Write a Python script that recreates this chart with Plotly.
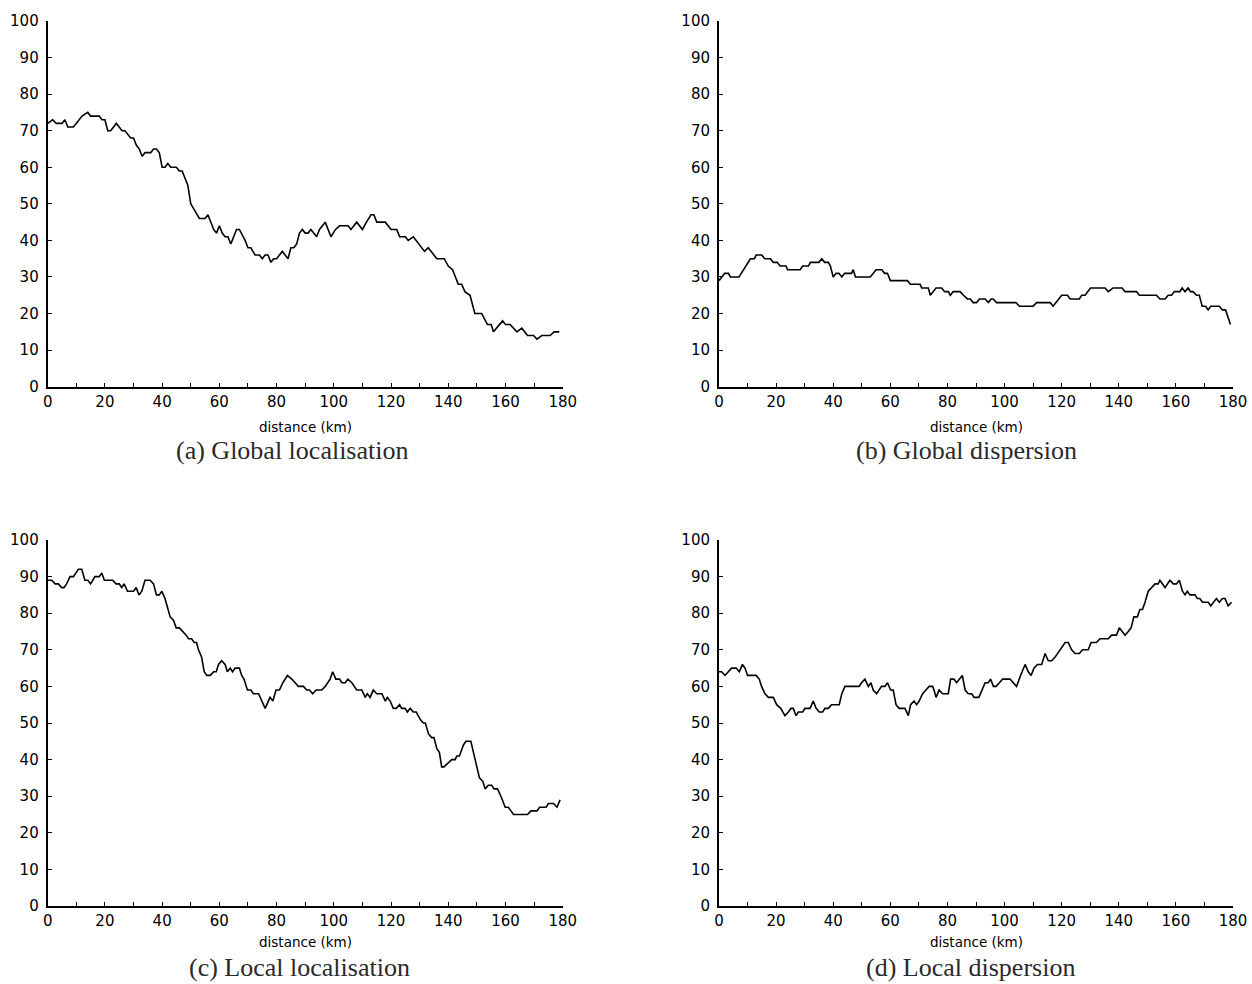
import plotly.graph_objects as go

# ---------------- data ----------------
a_km = [0, 1.7, 3, 5, 6, 7, 9, 12, 14, 15, 18, 19, 20, 21, 22, 24, 26, 27, 29, 30, 31, 32, 33, 34, 36, 37, 38, 39,
        40, 41, 42, 43, 45, 46, 47, 49, 50, 51.5, 53, 55, 56, 58, 59, 60, 61, 62, 63, 64, 66, 67, 69, 70, 71, 72.5,
        74, 75, 76, 77, 78, 79, 80, 82, 84, 85, 86, 87, 88, 89, 90, 91, 92, 94, 95, 97, 99, 100.6, 102, 105, 106,
        108, 110, 111.4, 113, 114, 115, 118, 120, 122, 123, 125, 126, 127.8, 129.7, 131.7, 133, 134, 136, 138.6,
        140, 141.5, 143.5, 144.7, 145.8, 147.6, 149.3, 151.7, 153.7, 155, 155.8, 159, 160, 161.6, 164, 165.7,
        167.7, 169.8, 171, 172.7, 175.6, 177, 178.8]
a_val = [72, 73, 72, 72, 73, 71, 71, 74, 75, 74, 74, 73, 73, 70, 70, 72, 70, 70, 68, 68, 66, 65, 63, 64, 64, 65, 65, 64,
         60, 60, 61, 60, 60, 59, 59, 55, 50, 48, 46, 46, 47, 43, 42, 44, 42, 41, 41, 39, 43, 43, 40, 38, 38, 36,
         36, 35, 36, 36, 34, 35, 35, 37, 35, 38, 38, 39, 42, 43, 42, 42, 43, 41, 43, 45, 41, 43, 44, 44, 43,
         45, 43, 45, 47, 47, 45, 45, 43, 43, 41, 41, 40, 41, 39, 37, 38, 37, 35, 35,
         33, 32, 28, 28, 26, 25, 20, 20, 17, 17, 15, 18, 17, 17, 15, 16,
         14, 14, 13, 14, 14, 15, 15]

b_km = [0, 1, 2, 3.3, 4, 7, 8.5, 10, 11, 12.4, 13, 15, 16, 18, 19, 20.4, 21.4, 23.5, 24, 28.4, 29.3, 31.3, 32, 35,
        36, 37, 38.3, 39, 40, 41, 42, 43, 44, 46.4, 47, 47.8, 53, 55, 57, 58, 59, 60, 66, 67, 70.4, 71, 73.3, 74,
        76, 78, 79, 80.3, 81, 82, 84.4, 85.6, 87, 88, 89, 90.2, 91.2, 93.2, 94.3, 95.3, 96, 97.2, 104, 105.2, 110,
        111.2, 116, 117, 120, 122, 123, 126.2, 127, 128.2, 130.1, 135.2, 136.3, 138, 141.2, 142.2, 146.2, 147.2,
        153.2, 154.4, 156.2, 157.3, 158.5, 159.4, 161.4, 162.2, 163.2, 164.3, 165.1, 166, 167.2, 168.2, 169.2,
        170.4, 171.3, 172.2, 175.2, 176.3, 177.4, 179.1]
b_val = [29, 30, 31, 31, 30, 30, 32, 34, 35, 35, 36, 36, 35, 35, 34, 34, 33, 33, 32, 32, 33, 33, 34, 34,
         35, 34, 34, 33, 30, 31, 31, 30, 31, 31, 32, 30, 30, 32, 32, 31, 31, 29, 29, 28, 28, 27, 27, 25,
         27, 27, 26, 26, 25, 26, 26, 25, 24, 24, 23, 23, 24, 24, 23, 24, 24, 23, 23, 22, 22,
         23, 23, 22, 25, 25, 24, 24, 25, 25, 27, 27, 26, 27, 27, 26, 26, 25,
         25, 24, 24, 25, 25, 26, 26, 27, 26, 27, 26, 26, 25, 25, 22,
         22, 21, 22, 22, 21, 21, 17]

c_km = [0, 1.4, 2.6, 3.7, 4.9, 5.7, 6.6, 7.8, 9, 10.7, 11.9, 13, 14, 15, 16.5, 18, 18.9, 19.8, 22.7, 23.9, 25, 25.9,
        26.7, 27.9, 30, 30.9, 31.9, 32.9, 34, 35.8, 37, 38, 39, 39.9, 41, 41.8, 42.8, 44, 44.9, 46, 47.2, 48.4,
        49.2, 50.3, 51.2, 52, 52.7, 53.8, 54.7, 55.6, 56.8, 58, 58.9, 59.7, 60.8, 62, 62.8, 63.8, 64.6, 65.5, 67,
        67.8, 68.6, 69.8, 71, 71.9, 73.7, 74.8, 76, 77.7, 78.7, 79.8, 81, 82.2, 83.8, 85.3, 87.6, 89.4, 90.5,
        91.5, 92.6, 93.8, 95.8, 97, 98.7, 99.6, 100.7, 102, 102.8, 104, 104.9, 106.3, 108, 109.8, 111, 111.7,
        112.7, 113.8, 115, 116.8, 118, 118.7, 119.7, 120.8, 121.8, 123, 123.7, 124.9, 125.7, 126.7, 127.8, 128.8,
        130.2, 131.3, 132, 133.1, 134.2, 135, 136, 136.9, 137.7, 138.5, 140, 141.2, 142.4, 143, 143.9, 145.3,
        146.2, 147.9, 149.4, 150.9, 152.1, 152.9, 154, 155.2, 156, 157.2, 158.4, 159.9, 161, 162.8, 167.7, 168.9,
        171, 171.9, 174.2, 175, 176.8, 178, 179.1]
c_val = [89, 89, 88, 88, 87, 87, 88, 90, 90, 92, 92, 89, 89, 88, 90, 90, 91, 89, 89, 88, 88, 87,
         88, 86, 86, 87, 85, 86, 89, 89, 88, 85, 85, 86, 84, 82, 79, 78, 76, 76, 75, 74,
         73, 73, 72, 72, 70, 68, 64, 63, 63, 64, 64, 66, 67, 66, 64, 65, 64, 65, 65,
         63, 62, 59, 59, 58, 58, 56, 54, 57, 56, 59, 59, 61, 63, 62, 60, 60, 59,
         59, 58, 59, 59, 60, 62, 64, 62, 62, 61, 61, 62, 61, 59, 59, 57, 58,
         57, 59, 58, 58, 56, 57, 56, 54, 54, 55, 54, 54, 53, 54, 53, 53,
         51, 50, 50, 47, 46, 46, 43, 42, 38, 38, 39, 40, 40, 41, 41, 44,
         45, 45, 40, 35, 34, 32, 33, 33, 32, 32, 30, 27, 27, 25, 25, 26,
         26, 27, 27, 28, 28, 27, 29]

d_km = [0, 0.9, 2.1, 3.3, 4.4, 6, 7.1, 8.2, 9.1, 10, 13, 14.1, 14.9, 16.1, 17.3, 19, 20.2, 21.6, 23.1, 24.3, 25.2,
        26, 27, 27.8, 29.3, 30.1, 31.9, 33, 34, 35.1, 36.3, 37.1, 38.3, 39.4, 42.1, 43, 44.1, 49.1, 49.9, 51.1,
        52.3, 53.2, 54, 55.2, 56.1, 56.9, 58.1, 59, 60.1, 61, 62, 63.1, 65.1, 66.3, 67.1, 68.3, 69.2, 70.1, 71.3,
        72.5, 73.6, 74.8, 75.3, 76, 77.1, 78.3, 80.3, 81.1, 82.3, 83.2, 85.2, 86.2, 87.3, 88.5, 89.3, 91, 92,
        93.2, 94.3, 95.1, 96.1, 97, 98.2, 99.3, 101.9, 103.1, 104.2, 105.6, 107.2, 108.3, 109.3, 110.3, 111.5,
        113, 114.2, 115.3, 116.5, 117.7, 119.4, 121.2, 122.3, 123.5, 124.7, 126.2, 127.3, 129.3, 130.3, 132.2,
        133.4, 136.3, 137.5, 139.2, 140.2, 142.2, 143.3, 144.3, 145.3, 146.5, 147.4, 148.3, 149.2, 150.3, 151.5,
        152.7, 153.8, 154.4, 156.2, 157.9, 159.1, 160.2, 161.2, 162.3, 163.2, 164, 164.9, 166.7, 167.5, 168.4,
        169.3, 171.3, 172.2, 174.2, 175.2, 176.3, 177.2, 178.3, 179.5]
d_val = [64, 64, 63, 64, 65, 65, 64, 66, 65, 63, 63, 62, 60, 58, 57, 57, 55, 54, 52, 53, 54,
         54, 52, 53, 53, 54, 54, 56, 54, 53, 53, 54, 54, 55, 55, 58, 60, 60, 61, 62,
         60, 61, 59, 58, 59, 60, 60, 61, 59, 59, 55, 54, 54, 52, 55, 56, 55, 56, 58,
         59, 60, 60, 59, 57, 59, 58, 58, 62, 62, 61, 63, 59, 58, 58, 57, 57, 59,
         61, 61, 62, 60, 60, 61, 62, 62, 61, 60, 63, 66, 64, 63, 65, 66,
         66, 69, 67, 67, 68, 70, 72, 72, 70, 69, 69, 70, 70, 72, 72,
         73, 73, 74, 74, 76, 74, 75, 76, 79, 79, 81, 81, 83, 86, 87,
         88, 88, 89, 87, 89, 88, 88, 89, 86, 85, 86, 85, 85, 84, 84,
         83, 83, 82, 84, 83, 84, 84, 82, 83]

captions = ["(a) Global localisation", "(b) Global dispersion",
            "(c) Local localisation", "(d) Local dispersion"]
x_title = "distance (km)"
y_ticks = [0, 10, 20, 30, 40, 50, 60, 70, 80, 90, 100]
x_ticks = [0, 20, 40, 60, 80, 100, 120, 140, 160, 180]

# ---------------- layout geometry ----------------
W, H = 1252, 984
left_dom = [47.7 / W, 562.7 / W]
right_dom = [719 / W, 1233 / W]
top_dom = [1 - 386.7 / H, 1 - 21 / H]
bot_dom = [1 - 906 / H, 1 - 540 / H]

fig = go.Figure()
series = [(a_km, a_val), (b_km, b_val), (c_km, c_val), (d_km, d_val)]
doms = [(left_dom, top_dom), (right_dom, top_dom), (left_dom, bot_dom), (right_dom, bot_dom)]

tick_font = dict(family="DejaVu Sans", size=15, color="black")

for i, ((xs, ys), (xd, yd)) in enumerate(zip(series, doms)):
    n = "" if i == 0 else str(i + 1)
    fig.add_trace(go.Scatter(x=xs, y=ys, mode="lines",
                             line=dict(color="black", width=1.6),
                             xaxis="x" + n, yaxis="y" + n, showlegend=False, hoverinfo="skip"))
    fig.layout["xaxis" + n] = dict(
        domain=xd, anchor="y" + n, range=[0, 180], showgrid=False, zeroline=False,
        showline=True, linecolor="black", linewidth=2, automargin=False,
        ticks="inside", ticklen=4, tickwidth=1, tickcolor="black",
        tickvals=x_ticks, ticktext=[str(v) for v in x_ticks], tickfont=tick_font,
        minor=dict(ticks="inside", ticklen=4, tickwidth=1, tickcolor="black", dtick=10, tick0=0,
                   showgrid=False),
    )
    fig.layout["yaxis" + n] = dict(
        domain=yd, anchor="x" + n, range=[0, 100], showgrid=False, zeroline=False,
        showline=True, linecolor="black", linewidth=2, automargin=False,
        ticks="inside", ticklen=4, tickwidth=1, tickcolor="black", ticklabelstandoff=4,
        tickvals=y_ticks, ticktext=[str(v) for v in y_ticks], tickfont=tick_font,
    )

annotations = []
cap_x = [292, 966, 299, 970]
ax_center = [305, 976, 305, 976]
axis_bottom = [386.7, 386.7, 906, 906]
title_off = [40, 40, 36, 36]
cap_off = [64, 64, 61, 61]
for i in range(4):
    annotations.append(dict(text=x_title, x=ax_center[i] / W, y=1 - (axis_bottom[i] + title_off[i]) / H,
                            xref="paper", yref="paper", showarrow=False, xanchor="center", yanchor="middle",
                            borderpad=0,
                            font=dict(family="DejaVu Sans", size=13.5, color="black")))
    annotations.append(dict(text=captions[i], x=cap_x[i] / W, y=1 - (axis_bottom[i] + cap_off[i]) / H,
                            xref="paper", yref="paper", showarrow=False, xanchor="center", yanchor="middle",
                            borderpad=0,
                            font=dict(family="Liberation Serif", size=26, color="#2a2a2a")))

fig.update_layout(width=W, height=H, margin=dict(l=0, r=0, t=0, b=0),
                  paper_bgcolor="white", plot_bgcolor="white", annotations=annotations)

fig.write_html("out.html", config={"displayModeBar": False},
               post_script="document.body.style.margin='0';document.body.style.overflow='hidden';")
